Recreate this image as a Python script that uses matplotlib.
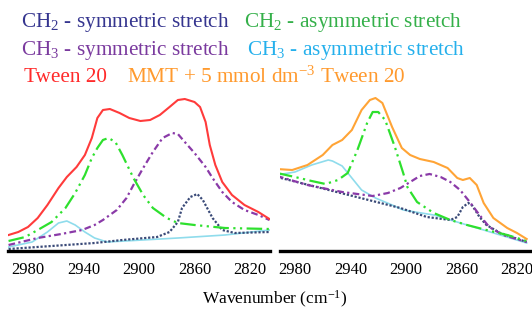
import matplotlib
matplotlib.use("Agg")
import matplotlib.pyplot as plt

plt.rcParams['font.family'] = ['Liberation Serif', 'DejaVu Serif']
plt.rcParams['mathtext.fontset'] = 'custom'
plt.rcParams['mathtext.rm'] = 'Liberation Serif'
plt.rcParams['mathtext.it'] = 'Liberation Serif:italic'
plt.rcParams['mathtext.bf'] = 'Liberation Serif:bold'

# ---------------- Left panel: Tween 20 ----------------
L_red_x = [2994, 2987, 2980, 2973, 2966, 2958, 2952, 2945, 2939, 2934, 2930, 2926, 2921,
           2914, 2907, 2899, 2892, 2885, 2878, 2872, 2867, 2860, 2856, 2852, 2849, 2845,
           2840, 2833, 2824, 2814, 2806]
L_red_y = [0.16, 0.19, 0.24, 0.33, 0.46, 0.63, 0.74, 0.84, 0.96, 1.13, 1.33, 1.41, 1.42,
           1.38, 1.33, 1.30, 1.31, 1.36, 1.44, 1.51, 1.52, 1.49, 1.44, 1.29, 1.06, 0.86,
           0.69, 0.56, 0.46, 0.39, 0.32]

L_green_x = [2994, 2982, 2973, 2963, 2953, 2946, 2939, 2934, 2930, 2926, 2922, 2917, 2912,
             2904, 2897, 2890, 2880, 2872, 2860, 2838, 2806]
L_green_y = [0.10, 0.14, 0.21, 0.29, 0.43, 0.58, 0.76, 0.93, 1.03, 1.11, 1.13, 1.09, 0.96,
             0.73, 0.56, 0.43, 0.33, 0.28, 0.26, 0.23, 0.22]

L_purple_x = [2994, 2973, 2956, 2941, 2932, 2926, 2916, 2909, 2904, 2897, 2890, 2883, 2876,
              2872, 2867, 2860, 2852, 2847, 2840, 2833, 2824, 2814, 2806]
L_purple_y = [0.06, 0.13, 0.17, 0.21, 0.26, 0.31, 0.41, 0.53, 0.66, 0.83, 0.99, 1.13, 1.18,
              1.17, 1.09, 0.98, 0.84, 0.73, 0.59, 0.49, 0.41, 0.36, 0.31]

L_navy_x = [2994, 2932, 2912, 2887, 2878, 2872, 2869, 2863, 2858, 2854, 2847, 2840, 2831, 2806]
L_navy_y = [0.02, 0.08, 0.11, 0.14, 0.19, 0.29, 0.43, 0.54, 0.57, 0.51, 0.33, 0.21, 0.18, 0.19]

L_cyan_x = [2994, 2977, 2966, 2958, 2952, 2946, 2939, 2932, 2923, 2872, 2838, 2806]
L_cyan_y = [0.04, 0.09, 0.19, 0.28, 0.30, 0.26, 0.19, 0.13, 0.09, 0.13, 0.16, 0.21]

# ---------------- Right panel: MMT + 5 mmol dm-3 Tween 20 ----------------
R_orange_x = [2993, 2982, 2971, 2960, 2953, 2946, 2939, 2932, 2926, 2922, 2917, 2910, 2903,
              2897, 2890, 2880, 2870, 2863, 2859, 2854, 2849, 2844, 2837, 2827, 2820, 2813]
R_orange_y = [0.82, 0.81, 0.86, 0.96, 1.06, 1.11, 1.21, 1.41, 1.51, 1.53, 1.48, 1.24, 1.03,
              0.96, 0.92, 0.89, 0.83, 0.73, 0.71, 0.73, 0.66, 0.48, 0.33, 0.23, 0.18, 0.12]

R_green_x = [2993, 2980, 2968, 2958, 2949, 2942, 2935, 2928, 2924, 2920, 2915, 2908, 2902,
             2899, 2892, 2880, 2868, 2856, 2842, 2827, 2813]
R_green_y = [0.78, 0.74, 0.70, 0.67, 0.71, 0.78, 1.01, 1.28, 1.39, 1.39, 1.31, 1.04, 0.78,
             0.64, 0.49, 0.38, 0.31, 0.26, 0.21, 0.16, 0.10]

R_cyan_x = [2993, 2980, 2968, 2956, 2953, 2946, 2939, 2932, 2922, 2910, 2902, 2880, 2856,
            2832, 2813]
R_cyan_y = [0.76, 0.79, 0.86, 0.91, 0.90, 0.85, 0.73, 0.61, 0.53, 0.46, 0.41, 0.36, 0.26,
            0.16, 0.08]

R_purple_x = [2993, 2971, 2946, 2924, 2913, 2904, 2897, 2890, 2883, 2875, 2868, 2861, 2854,
              2847, 2840, 2830, 2813]
R_purple_y = [0.75, 0.66, 0.59, 0.55, 0.58, 0.63, 0.69, 0.75, 0.77, 0.74, 0.69, 0.61, 0.49,
              0.36, 0.24, 0.16, 0.09]

R_navy_x = [2993, 2904, 2885, 2868, 2863, 2859, 2855, 2852, 2847, 2842, 2832, 2813]
R_navy_y = [0.74, 0.43, 0.34, 0.31, 0.34, 0.44, 0.48, 0.45, 0.34, 0.26, 0.18, 0.09]

tick_vals = [2980, 2940, 2900, 2860, 2820]

W, H = 532, 309
fig = plt.figure(figsize=(W / 100, H / 100), dpi=100)

def px_axes(x0, x1, y_top, y_bot):
    return fig.add_axes([x0 / W, 1 - y_bot / H, (x1 - x0) / W, (y_bot - y_top) / H])

axL = px_axes(8, 270, 90, 251)
axR = px_axes(280, 530, 90, 251)

c_red = '#ff3b3b'
c_orange = '#ffa436'
c_green = '#2ee02e'
c_purple = '#8a3aa8'
c_navy = '#3a4a78'
c_cyan = '#8fdcec'

green_ls = (0, (7, 2, 1, 2, 1, 2))
purple_ls = (0, (3, 1.5, 1, 1.5))
navy_ls = (0, (1, 0.8))

def draw(ax, tot_x, tot_y, tot_c, comps):
    for (x, y, c, ls, lw) in comps:
        ax.plot(x, y, color=c, ls=ls, lw=lw, solid_joinstyle='round')
    ax.plot(tot_x, tot_y, color=tot_c, lw=1.5, solid_joinstyle='round')

draw(axL, L_red_x, L_red_y, c_red, [
    (L_cyan_x, L_cyan_y, c_cyan, '-', 1.2),
    (L_navy_x, L_navy_y, c_navy, navy_ls, 1.6),
    (L_purple_x, L_purple_y, c_purple, purple_ls, 1.6),
    (L_green_x, L_green_y, c_green, green_ls, 1.6),
])
draw(axR, R_orange_x, R_orange_y, c_orange, [
    (R_cyan_x, R_cyan_y, c_cyan, '-', 1.2),
    (R_navy_x, R_navy_y, c_navy, navy_ls, 1.6),
    (R_purple_x, R_purple_y, c_purple, purple_ls, 1.6),
    (R_green_x, R_green_y, c_green, green_ls, 1.6),
])

axL.set_xlim(2994.4, 2805.6)
axR.set_xlim(2990.8, 2810.6)
for ax in (axL, axR):
    ax.set_ylim(0, 1.61)
    ax.set_xticks(tick_vals)
    ax.set_xticklabels([str(t) for t in tick_vals], fontsize=12)
    ax.tick_params(axis='x', length=0, pad=8)
    ax.set_yticks([])
    for s in ('top', 'right', 'left'):
        ax.spines[s].set_visible(False)
    ax.spines['bottom'].set_linewidth(2.4)
    ax.spines['bottom'].set_color('black')
    ax.patch.set_alpha(0)

def ftext(x, y, s, color, size=15.3):
    fig.text(x / W, 1 - y / H, s, color=color, fontsize=size, ha='left', va='center')

ftext(21, 23, 'CH$_2$ - symmetric stretch', '#35358f')
ftext(244, 23, 'CH$_2$ - asymmetric stretch', '#35b04a')
ftext(21, 50, 'CH$_3$ - symmetric stretch', '#7a3a9e')
ftext(247, 50, 'CH$_3$ - asymmetric stretch', '#25b0ec')
ftext(24, 77, 'Tween 20', '#ff2a2a')
ftext(127, 77, 'MMT + 5 mmol dm$^{-3}$ Tween 20', '#ff9a2e')

fig.text(275 / W, 1 - 299 / H, 'Wavenumber (cm$^{-1}$)', fontsize=12.5, ha='center', va='center',
         color='black')

fig.savefig('out.png', dpi=100)
